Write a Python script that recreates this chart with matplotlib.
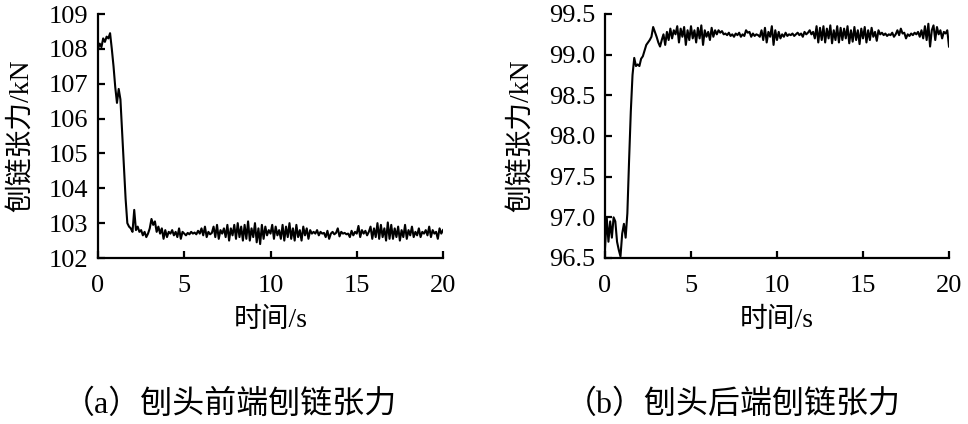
import numpy as np
import matplotlib
matplotlib.use("Agg")
import matplotlib.pyplot as plt

time_s = [round(i * 0.1, 1) for i in range(201)]

front_tension = [
    108.00, 108.15, 108.05, 108.30, 108.20, 108.35, 108.30, 108.45, 108.00, 107.50,
    106.90, 106.45, 106.85, 106.55, 105.60, 104.60, 103.70, 103.00, 102.90, 102.85,
    102.75, 103.38, 102.80, 102.90, 102.75, 102.80, 102.65, 102.75, 102.60, 102.70,
    102.85, 103.12, 102.95, 103.05, 102.75, 102.90, 102.70, 102.85, 102.55, 102.80,
    102.60, 102.75, 102.70, 102.80, 102.65, 102.75, 102.60, 102.85, 102.55, 102.75,
    102.70, 102.65, 102.72, 102.68, 102.75, 102.70, 102.73, 102.68, 102.78, 102.70,
    102.85, 102.65, 102.90, 102.60, 102.75, 102.68, 102.72, 102.90, 102.60, 102.95,
    102.55, 102.80, 102.70, 102.85, 102.60, 102.95, 102.50, 102.85, 102.65, 102.95,
    102.55, 103.00, 102.60, 102.90, 102.50, 102.95, 102.55, 103.05, 102.50, 102.85,
    102.60, 103.00, 102.45, 102.85, 102.40, 102.95, 102.55, 102.90, 102.65, 102.80,
    102.70, 102.95, 102.55, 102.90, 102.65, 102.80, 102.55, 102.95, 102.50, 102.90,
    102.60, 103.00, 102.55, 102.85, 102.50, 102.95, 102.60, 102.80, 102.50, 102.90,
    102.65, 102.85, 102.55, 102.80, 102.70, 102.75, 102.70, 102.80, 102.65, 102.75,
    102.70, 102.72, 102.60, 102.78, 102.55, 102.70, 102.75, 102.68, 102.72, 102.85,
    102.62, 102.75, 102.70, 102.72, 102.68, 102.70, 102.60, 102.78, 102.65, 102.75,
    102.70, 102.92, 102.60, 102.80, 102.70, 102.78, 102.65, 102.75, 102.90, 102.55,
    102.85, 102.60, 103.00, 102.55, 102.95, 102.60, 102.85, 102.50, 103.02, 102.55,
    102.95, 102.55, 102.85, 102.60, 102.90, 102.50, 102.80, 102.60, 102.95, 102.55,
    102.80, 102.65, 102.90, 102.60, 102.75, 102.65, 102.85, 102.60, 102.75, 102.70,
    102.80, 102.65, 102.90, 102.60, 102.80, 102.70, 102.75, 102.55, 102.85, 102.70,
    102.80,
]

rear_tension = [
    96.62, 97.00, 96.70, 96.95, 96.75, 97.00, 96.95, 96.70, 96.60, 96.52,
    96.80, 96.92, 96.75, 97.05, 97.70, 98.30, 98.75, 98.96, 98.86, 98.88,
    98.86, 98.95, 98.98, 99.05, 99.12, 99.15, 99.18, 99.22, 99.34, 99.28,
    99.22, 99.15, 99.10, 99.18, 99.25, 99.12, 99.28, 99.18, 99.32, 99.20,
    99.30, 99.25, 99.35, 99.15, 99.32, 99.22, 99.34, 99.12, 99.30, 99.18,
    99.35, 99.20, 99.30, 99.15, 99.33, 99.20, 99.36, 99.12, 99.30, 99.22,
    99.28, 99.18, 99.33, 99.22, 99.30, 99.25, 99.30, 99.27, 99.29, 99.25,
    99.26, 99.24, 99.27, 99.23, 99.25, 99.22, 99.26, 99.24, 99.27, 99.22,
    99.25, 99.23, 99.30, 99.27, 99.28, 99.22, 99.26, 99.23, 99.25, 99.24,
    99.22, 99.30, 99.18, 99.33, 99.15, 99.28, 99.22, 99.35, 99.12, 99.30,
    99.18, 99.28, 99.20, 99.25, 99.22, 99.27, 99.23, 99.25, 99.24, 99.26,
    99.23, 99.25, 99.27, 99.24, 99.26, 99.22, 99.28, 99.25, 99.27, 99.30,
    99.25, 99.28, 99.20, 99.35, 99.15, 99.33, 99.18, 99.35, 99.15, 99.32,
    99.20, 99.36, 99.14, 99.30, 99.18, 99.35, 99.15, 99.33, 99.18, 99.32,
    99.20, 99.35, 99.14, 99.30, 99.16, 99.34, 99.18, 99.30, 99.13, 99.32,
    99.20, 99.34, 99.15, 99.30, 99.18, 99.33, 99.22, 99.28, 99.17, 99.30,
    99.25, 99.27, 99.24, 99.26, 99.23, 99.25, 99.24, 99.27, 99.22, 99.25,
    99.30, 99.24, 99.32, 99.26, 99.27, 99.20, 99.25, 99.23, 99.26, 99.24,
    99.27, 99.25, 99.28, 99.22, 99.30, 99.20, 99.35, 99.18, 99.38, 99.10,
    99.30, 99.36, 99.18, 99.34, 99.25, 99.30, 99.20, 99.28, 99.26, 99.30,
    99.10,
]

x_ticks = [0, 5, 10, 15, 20]
left_yticks = [102, 103, 104, 105, 106, 107, 108, 109]
right_yticks = [96.5, 97.0, 97.5, 98.0, 98.5, 99.0, 99.5]
x_label = "时间/s"
y_label = "刨链张力/kN"
captions = ["（a）刨头前端刨链张力", "（b）刨头后端刨链张力"]

FAM = ["Liberation Serif", "Noto Sans CJK SC", "DejaVu Sans"]
plt.rcParams["font.family"] = FAM

W, H = 968, 424
fig = plt.figure(figsize=(W / 100, H / 100), dpi=100)

def px_axes(x0, x1, ytop, ybot):
    return fig.add_axes([x0 / W, 1 - ybot / H, (x1 - x0) / W, (ybot - ytop) / H])

axL = px_axes(98, 443, 14, 258)
axR = px_axes(605, 949, 14, 258)

for ax, y, yt, ylim, fmt in [
    (axL, front_tension, left_yticks, (102, 109), "{:.0f}"),
    (axR, rear_tension, right_yticks, (96.5, 99.5), "{:.1f}"),
]:
    ax.plot(time_s, y, color="black", lw=1.5)
    ax.set_xlim(0, 20)
    ax.set_ylim(*ylim)
    ax.set_xticks(x_ticks)
    ax.set_xticklabels([str(t) for t in x_ticks])
    ax.set_yticks(yt)
    ax.set_yticklabels([fmt.format(v) for v in yt])
    for s in ["top", "right"]:
        ax.spines[s].set_visible(False)
    for s in ["left", "bottom"]:
        ax.spines[s].set_linewidth(1.6)
    ax.tick_params(direction="in", length=5, width=1.6, labelsize=19, pad=7)
    ax.tick_params(axis="x", pad=12)
    ax.set_xlabel(x_label, fontsize=20, labelpad=8)
    ax.set_ylabel(y_label, fontsize=20, labelpad=10)

fig.text(230 / W, 1 - 405 / H, captions[0], fontsize=23, ha="center", va="center")
fig.text(733 / W, 1 - 405 / H, captions[1], fontsize=23, ha="center", va="center")

fig.savefig("out.png", dpi=100)
